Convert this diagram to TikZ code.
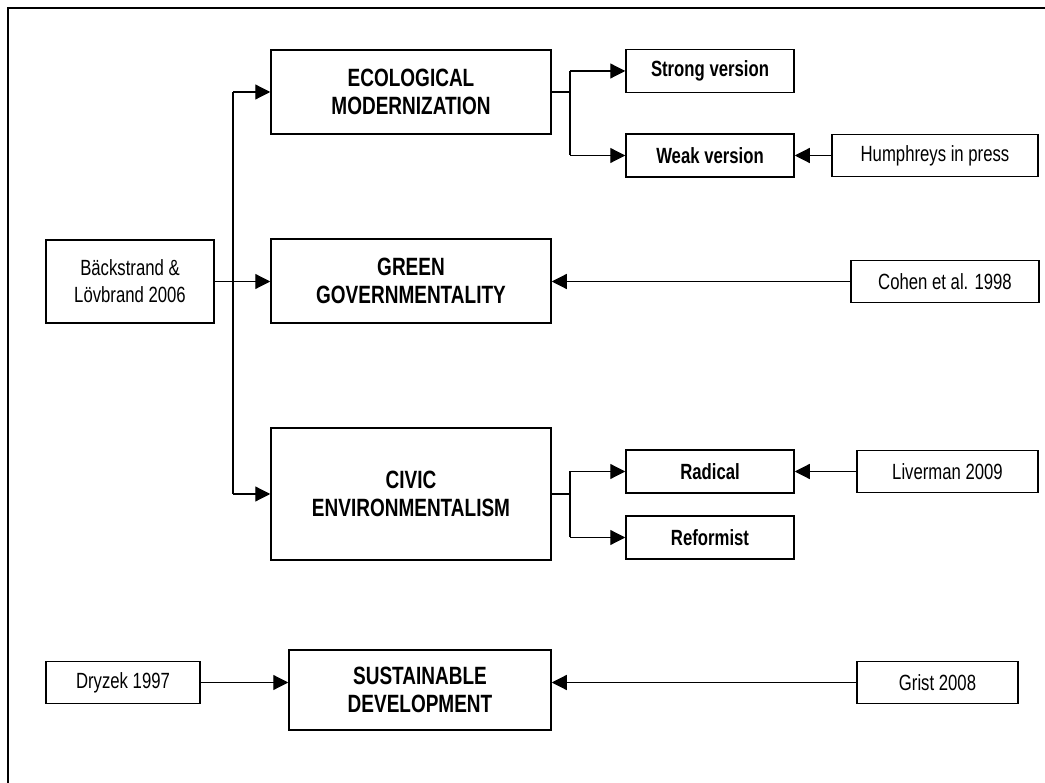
\documentclass[tikz,border=0pt]{standalone}
\usepackage{fontspec}
\setmainfont{Liberation Sans}
\newfontfamily\boxfont[FakeStretch=0.76]{Liberation Sans}
\usetikzlibrary{arrows.meta}

\begin{document}
\begin{tikzpicture}[x=1pt, y=-1pt, line width=1.2pt,
    concept/.style={draw, line width=1.5pt, inner sep=0pt, minimum width=280pt,
      minimum height=84pt, align=center, font=\boxfont\bfseries\fontsize{25}{28}\selectfont},
    variant/.style={draw, line width=1.5pt, inner sep=0pt, minimum width=168pt,
      minimum height=43pt, font=\boxfont\bfseries\fontsize{22}{26}\selectfont},
    source/.style={draw, line width=1.5pt, inner sep=0pt, minimum height=42pt, align=center,
      font=\boxfont\fontsize{22}{27}\selectfont},
    feed/.style={-{Triangle[length=15pt, width=15pt]}}]
  \useasboundingbox (0,0) rectangle (1045,783);
  \draw[line width=1.5pt] (1045,8) -- (8,8) -- (8,783);

  % main concepts
  \node[concept] (eco) at (411,92) {ECOLOGICAL\\MODERNIZATION};
  \node[concept] (green) at (411,281) {GREEN\\GOVERNMENTALITY};
  \node[concept, minimum height=132pt] (civic) at (411,494) {CIVIC\\ENVIRONMENTALISM};
  \node[concept, minimum width=262pt, minimum height=80pt] (sust) at (420,690)
    {SUSTAINABLE\\DEVELOPMENT};

  % versions
  \node[variant] (strong) at (710,71) {Strong version};
  \node[variant] (weak) at (710,155.5) {Weak version};
  \node[variant] (radical) at (710,471.5) {Radical};
  \node[variant] (reform) at (710,537.5) {Reformist};

  % sources
  \node[source, minimum width=168pt, minimum height=83pt] (back) at (130,281.5)
    {Bäckstrand \&\\Lövbrand 2006};
  \node[source, minimum width=206pt] (humph) at (935,155.5) {Humphreys in press};
  \node[source, minimum width=188pt] (cohen) at (945,281.5) {Cohen et al. 1998};
  \node[source, minimum width=181pt] (liver) at (947.5,471.5) {Liverman 2009};
  \node[source, minimum width=154pt] (dryzek) at (123,682.5) {Dryzek 1997};
  \node[source, minimum width=161pt] (grist) at (937.5,682.5) {Grist 2008};

  \coordinate (trunk) at (233,0);
  \coordinate (ecofork) at (570,0);

  % from Bäckstrand & Lövbrand
  \draw (eco.west -| trunk) -- (civic.west -| trunk);
  \draw[feed] (eco.west -| trunk) -- (eco.west);
  \draw[feed] (back.east) -- (back.east -| green.west);
  \draw[feed] (civic.west -| trunk) -- (civic.west);

  % ecological modernization
  \draw (eco.east) -- (eco.east -| ecofork);
  \draw (strong.west -| ecofork) -- (weak.west -| ecofork);
  \draw[feed] (strong.west -| ecofork) -- (strong.west);
  \draw[feed] (weak.west -| ecofork) -- (weak.west);
  \draw[feed] (humph.west) -- (weak.east);

  \draw[feed] (cohen.west) -- (cohen.west -| green.east);

  % civic environmentalism
  \draw (civic.east) -- (civic.east -| ecofork);
  \draw (radical.west -| ecofork) -- (reform.west -| ecofork);
  \draw[feed] (radical.west -| ecofork) -- (radical.west);
  \draw[feed] (reform.west -| ecofork) -- (reform.west);
  \draw[feed] (liver.west) -- (radical.east);

  % sustainable development
  \draw[feed] (dryzek.east) -- (dryzek.east -| sust.west);
  \draw[feed] (grist.west) -- (grist.west -| sust.east);
\end{tikzpicture}
\end{document}
